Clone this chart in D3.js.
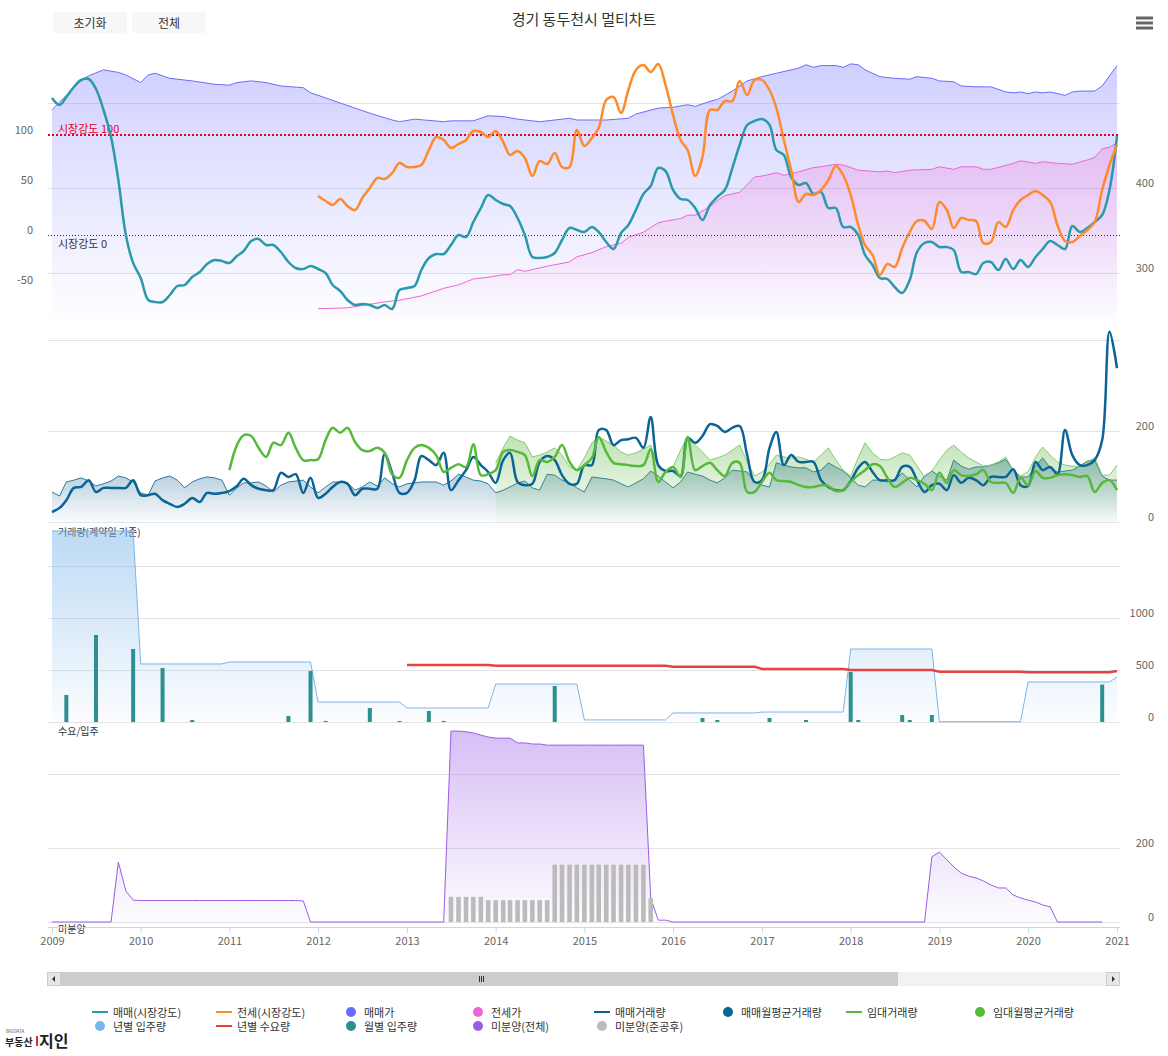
<!DOCTYPE html>
<html><head><meta charset="utf-8">
<script src="https://cdn.jsdelivr.net/npm/d3@7"></script>
<style>
body{margin:0;background:#fff;font-family:"Noto Sans CJK KR","Noto Sans",sans-serif;}
svg{display:block}
</style></head><body>
<svg id="chart" width="1168" height="1056"></svg>
<script>
// ---------------- DATA ----------------
const chartTitle = "경기 동두천시 멀티차트";
const xYears = ["2009","2010","2011","2012","2013","2014","2015","2016","2017","2018","2019","2020","2021"];

// 매매(시장강도) monthly from 2009-01
const saleStrengthStart = "2009-01";
const saleStrength = [137,130,138,148,155,156,146,125,98,55,0,-28,-43,-65,-67,-67,-60,-51,-50,-42,
-37,-29,-25,-26,-28,-21,-16,-6,-4,-10,-10,-17,-27,-33,-34,-31,-34,-38,-50,-56,
-65,-70,-69,-70,-73,-70,-74,-55,-53,-51,-35,-23,-19,-19,-10,0,-2,13,27,40,
35,31,29,17,0,-22,-23,-22,-18,-5,7,5,3,8,3,-7,-14,2,10,25,
41,49,67,64,45,36,35,27,15,30,38,45,67,90,110,114,116,110,85,80,
58,50,52,41,43,27,27,8,8,0,-20,-30,-43,-44,-52,-58,-45,-17,-8,-7,
-12,-12,-15,-37,-37,-39,-28,-27,-35,-24,-34,-25,-32,-22,-14,-6,-10,-14,9,3,
7,13,20,45,99];

// 전세(시장강도) monthly from 2012-01
const jeonseStrengthStart = "2012-01";
const jeonseStrength = [39,34,30,36,29,25,37,47,57,56,62,72,68,68,70,85,98,95,87,91,
95,104,103,98,104,93,80,84,77,59,74,71,82,68,68,105,89,97,107,135,
138,122,145,165,170,163,171,150,120,95,85,59,78,125,125,134,134,154,140,155,
155,145,127,95,65,33,41,40,45,55,69,60,40,10,-10,-20,-40,-29,-32,-13,
3,14,14,6,33,25,7,17,15,14,-8,-7,13,8,25,35,40,44,40,33,
10,-6,-7,-1,5,13,45,70,90];

// 매매가
const salePriceDates = ["2009-01","2009-03","2009-05","2009-06","2009-08","2009-10","2009-11","2010-01","2010-02","2010-03","2010-05","2010-08","2010-11","2011-01","2011-02","2011-04","2011-06","2011-08","2011-11","2011-12","2012-02","2012-04","2012-06","2012-08","2012-11","2012-12","2013-02","2013-06","2013-07","2013-10","2013-12","2014-02","2014-04","2014-07","2014-11","2014-12","2015-04","2015-07","2015-08","2015-11","2016-01","2016-03","2016-04","2016-06","2016-07","2016-09","2016-11","2017-01","2017-03","2017-06","2017-07","2017-08","2017-09","2017-11","2017-12","2018-01","2018-02","2018-03","2018-05","2018-07","2018-09","2018-10","2018-12","2019-01","2019-03","2019-04","2019-06","2019-08","2019-10","2019-11","2019-12","2020-01","2020-02","2020-03","2020-04","2020-06","2020-07","2020-08","2020-10","2020-11","2021-01"];
const salePrice = [492,509,527,532,539,536,533,524,533,535,529,526,522,521,524,526,524,520,518,512,506,500,494,488,480,478,481,478,479,479,485,484,481,478,482,480,480,482,487,494,495,498,496,502,504,514,526,531,535,541,545,542,544,544,542,546,545,539,531,529,528,531,529,526,525,520,519,519,513,512,513,511,513,512,513,509,513,514,514,520,544];

// 전세가
const jeonsePriceDates = ["2012-01","2012-05","2012-10","2012-12","2013-03","2013-06","2013-08","2013-10","2013-12","2014-02","2014-03","2014-04","2014-05","2014-07","2014-08","2014-11","2014-12","2015-02","2015-04","2015-06","2015-07","2015-09","2015-11","2015-12","2016-02","2016-03","2016-04","2016-06","2016-07","2016-08","2016-10","2016-11","2016-12","2017-01","2017-03","2017-04","2017-06","2017-08","2017-09","2017-11","2017-12","2018-02","2018-05","2018-06","2018-07","2018-09","2018-12","2019-01","2019-03","2019-04","2019-06","2019-07","2019-08","2019-11","2019-12","2020-02","2020-03","2020-05","2020-07","2020-09","2020-10","2020-11","2020-12","2021-01"];
const jeonsePrice = [258,259,266,268,273,282,286,293,295,298,298,304,302,306,308,313,319,324,331,335,342,348,359,361,364,368,368,378,385,391,395,404,413,414,418,415,419,424,425,428,427,421,419,420,418,421,422,425,422,425,425,422,422,429,432,429,431,429,428,433,436,446,448,453];

// 매매거래량 monthly from 2009-01
const saleVolumeStart = "2009-01";
const saleVolume = [22,31,48,75,77,92,66,75,75,75,75,92,59,59,62,48,40,33,40,53,
44,64,62,64,68,79,95,81,73,70,70,108,99,105,64,97,53,62,77,88,
84,59,73,73,73,149,108,64,64,92,145,136,125,152,70,92,114,143,125,110,
86,136,152,88,81,84,132,145,136,103,84,84,125,125,202,202,169,180,182,185,
163,231,125,112,112,101,185,174,189,215,211,198,207,211,147,88,92,163,198,125,
147,132,132,132,92,77,70,70,90,119,132,110,92,92,92,121,121,92,66,81,
84,70,103,86,97,92,81,99,99,99,116,81,79,132,114,121,105,202,147,125,
125,136,180,418,338];

// 매매월평균거래량 monthly from 2009-01
const saleAvgStart = "2009-01";
const saleAvg = [66,57,88,92,97,90,79,84,90,101,97,88,64,59,90,97,101,92,75,88,
95,99,97,92,59,75,86,86,88,79,66,81,88,90,92,77,64,77,88,88,
86,70,77,88,79,97,84,77,84,86,88,88,88,81,90,105,99,92,90,84,
64,70,77,86,90,75,70,105,103,92,86,75,66,99,97,95,92,84,77,86,
95,112,101,88,75,88,110,105,101,92,86,97,114,112,110,88,81,77,130,125,
121,119,119,110,114,130,121,112,97,81,77,92,92,88,92,108,92,77,101,112,
101,92,136,123,116,121,121,125,130,138,114,99,99,123,141,119,110,112,114,123,
134,136,101,92,92];

// 임대거래량 monthly from 2011-01
const rentVolumeStart = "2011-01";
const rentVolume = [114,169,191,189,163,143,174,169,196,163,
136,136,138,180,207,196,207,176,158,156,
163,152,105,97,136,163,169,163,147,110,
119,127,121,171,103,105,114,154,158,154,
147,101,136,132,143,169,132,114,125,141,
187,154,130,127,125,123,125,160,88,110,
121,99,187,114,123,130,114,101,130,130,
66,66,88,108,92,90,88,81,77,77,
81,79,68,70,88,103,114,127,123,97,
77,86,97,92,84,70,108,86,114,103,
101,105,114,88,86,86,64,97,81,112,
97,97,103,105,103,99,101,66,86,92,
70];

// 임대월평균거래량 monthly from 2014-01
const rentAvgStart = "2014-01";
const rentAvg = [130,163,189,180,174,143,147,154,163,147,
121,114,141,174,187,178,169,154,147,152,
160,169,121,110,121,158,187,169,154,136,
141,147,158,169,132,101,110,127,147,143,
141,143,138,132,147,163,136,114,101,141,
174,152,138,136,143,152,147,123,99,112,
136,158,169,154,141,132,123,125,132,143,
114,101,110,143,165,147,132,125,123,121,
132,141,103,103,125];

// 년별 입주량 (yearly)
const supplyYears = ["2009","2010","2011","2012","2013","2014","2015","2016","2017","2018","2019","2020","2021"];
const supplyValues = [1837,558,577,192,135,365,20,87,96,702,3,385,433];
// 년별 수요량 (yearly)
const demandYears = ["2013","2014","2015","2016","2017","2018","2019","2020","2021"];
const demandValues = [548,542,540,532,510,500,484,478,490];
// 월별 입주량
const moveInDates = ["2009-03","2009-07","2009-12","2010-04","2010-08","2011-09","2011-12","2012-02","2012-08","2012-12","2013-04","2013-06","2014-09","2016-05","2016-07","2017-02","2017-07","2018-01","2018-02","2018-08","2018-09","2018-12","2020-11"];
const moveInValues = [260,837,702,519,19,58,490,10,135,10,106,10,346,38,19,38,19,481,19,67,19,67,360];

// 미분양(전체) monthly from 2009-01
const unsoldStart = "2009-01";
const unsoldTotal = [0,0,0,0,0,0,0,0,0,162,84,59,
58,58,58,58,58,58,58,58,58,58,58,58,58,58,58,58,58,58,58,58,58,58,57,
0,0,0,0,0,0,0,0,0,0,0,0,0,0,0,0,0,0,0,
516,516,514,511,505,500,497,497,497,484,484,481,481,478,
478,478,478,478,478,478,478,478,478,478,478,478,478,
65,5,5,
0,0,0,0,0,0,0,0,0,0,0,0,0,0,0,0,0,0,0,0,0,0,0,0,0,0,0,0,0,0,0,0,0,0,0,
176,189,168,149,132,124,119,111,100,92,92,73,65,59,54,46,41,
0,0,0,0,0,0,0];
// 미분양(준공후)
const unsoldAfterDates = ["2013-07","2013-08","2013-09","2013-10","2013-11","2013-12","2014-01","2014-02","2014-03","2014-04","2014-05","2014-06","2014-07","2014-08","2014-09","2014-10","2014-11","2014-12","2015-01","2015-02","2015-03","2015-04","2015-05","2015-06","2015-07","2015-08","2015-09","2015-10"];
const unsoldAfter = [68,68,68,68,68,59,59,59,59,59,59,59,59,59,155,155,155,155,155,155,155,155,155,155,155,155,155,65];

// axis ticks
const strengthTicks = [100,50,0,-50];
const priceGridTicks = [300,400,500];
const priceLabelTicks = [400,300];
const volGridTicks = [0,200,400];
const volLabelTicks = [200,0];
const supplyGridTicks = [0,500,1000,1500];
const supplyLabelTicks = [1000,500,0];
const unsoldGridTicks = [0,200,400];
const unsoldLabelTicks = [200,0];

const legendItems = [
  {name:"매매(시장강도)", color:"#2a9aab", type:"line"},
  {name:"전세(시장강도)", color:"#fd8b2b", type:"line"},
  {name:"매매가", color:"#6b6bff", type:"circle"},
  {name:"전세가", color:"#ef66d0", type:"circle"},
  {name:"매매거래량", color:"#0a6496", type:"line"},
  {name:"매매월평균거래량", color:"#0a6496", type:"circle"},
  {name:"임대거래량", color:"#57b93a", type:"line"},
  {name:"임대월평균거래량", color:"#57b93a", type:"circle"},
  {name:"년별 입주량", color:"#7cb5ec", type:"circle"},
  {name:"년별 수요량", color:"#e84142", type:"line"},
  {name:"월별 입주량", color:"#2b908f", type:"circle"},
  {name:"미분양(전체)", color:"#9a5ce6", type:"circle"},
  {name:"미분양(준공후)", color:"#bbbbbb", type:"circle"}
];

// ---------------- SETUP ----------------
const svg = d3.select("#chart");
const defs = svg.append("defs");
const parseM = d3.timeParse("%Y-%m");
const parseY = d3.timeParse("%Y");
const GX0 = 48, GX1 = 1120;
const FONT = '"Noto Sans CJK KR","Noto Sans",sans-serif';

const x = d3.scaleTime().domain([new Date(2009,0,1), new Date(2021,0,1)]).range([52,1117]);
const yStrength = d3.scaleLinear().domain([0,100]).range([235,135]);
const yPrice = d3.scaleLinear().domain([300,400]).range([273,188]);
const yVol = d3.scaleLinear().domain([0,200]).range([522,431]);
const ySupply = d3.scaleLinear().domain([0,1000]).range([722,618]);
const yUnsold = d3.scaleLinear().domain([0,200]).range([922,848]);

function monthly(start, vals){ const s = parseM(start); return vals.map((v,i)=>({d:d3.timeMonth.offset(s,i), v})); }
function dated(dates, vals){ return dates.map((d,i)=>({d:parseM(d), v:vals[i]})); }
function grad(id, color, y1, y2, o1, o2){
  const g = defs.append("linearGradient").attr("id",id).attr("gradientUnits","userSpaceOnUse")
    .attr("x1",0).attr("x2",0).attr("y1",y1).attr("y2",y2);
  g.append("stop").attr("offset",0).attr("stop-color",color).attr("stop-opacity",o1);
  g.append("stop").attr("offset",1).attr("stop-color",color).attr("stop-opacity",o2);
}
const smooth = d3.curveCatmullRom.alpha(0.5);
function line(ys, curve){ return d3.line().x(p=>x(p.d)).y(p=>ys(p.v)).curve(curve||d3.curveLinear); }
function area(ys, base){ return d3.area().x(p=>x(p.d)).y0(base).y1(p=>ys(p.v)); }

grad("gPrice","#6b6bff",62,325,0.32,0.0);
grad("gJeonse","#f060d0",140,325,0.28,0.0);
grad("gSaleAvg","#2a6f9c",456,522,0.45,0.02);
grad("gRentAvg","#5ab43c",432,522,0.4,0.02);
grad("gSupply","#7cb5ec",531,722,0.5,0.03);
grad("gUnsold","#9a5ce6",731,922,0.4,0.02);

function grid(ys, ticks){
  svg.append("g").selectAll("line").data(ticks).join("line")
    .attr("x1",GX0).attr("x2",GX1).attr("y1",d=>Math.round(ys(d))+0.5).attr("y2",d=>Math.round(ys(d))+0.5)
    .attr("stroke","#e3e3e3").attr("stroke-width",1);
}
function rightLabels(ys, ticks){
  svg.append("g").selectAll("text").data(ticks).join("text")
    .attr("x",1154).attr("y",d=>ys(d)-6).attr("text-anchor","end").attr("dominant-baseline","central")
    .attr("font-size",11).attr("fill","#666").attr("font-family",FONT).text(d=>d);
}

// ---------------- HEADER ----------------
const buttons = [{t:"초기화",x:53},{t:"전체",x:132}];
buttons.forEach(b=>{
  svg.append("rect").attr("x",b.x).attr("y",12).attr("width",74).attr("height",21).attr("rx",2).attr("fill","#f7f7f7");
  svg.append("text").attr("x",b.x+37).attr("y",22.5).attr("text-anchor","middle").attr("dominant-baseline","central")
    .attr("font-size",12).attr("fill","#333").attr("font-family",FONT).text(b.t);
});
svg.append("text").attr("x",584).attr("y",18).attr("text-anchor","middle").attr("dominant-baseline","central")
  .attr("font-size",15).attr("fill","#333").attr("font-family",FONT).text(chartTitle);
[18,23,28].forEach(yy=>svg.append("line").attr("x1",1136).attr("x2",1153).attr("y1",yy).attr("y2",yy)
  .attr("stroke","#666").attr("stroke-width",3));

// ---------------- PANEL 1 ----------------
grid(yPrice, priceGridTicks);
const priceData = dated(salePriceDates, salePrice);
const jeonseData = dated(jeonsePriceDates, jeonsePrice);
svg.append("path").datum(priceData).attr("d", area(yPrice, 320)).attr("fill","url(#gPrice)");
svg.append("path").datum(priceData).attr("d", line(yPrice)).attr("fill","none").attr("stroke","#6b6bff").attr("stroke-width",1);
svg.append("path").datum(jeonseData).attr("d", area(yPrice, 320)).attr("fill","url(#gJeonse)");
svg.append("path").datum(jeonseData).attr("d", line(yPrice)).attr("fill","none").attr("stroke","#ef66d0").attr("stroke-width",1);

// plot lines
svg.append("line").attr("x1",GX0).attr("x2",GX1).attr("y1",yStrength(100)).attr("y2",yStrength(100))
  .attr("stroke","#e8001c").attr("stroke-width",2).attr("stroke-dasharray","2,2");
svg.append("text").attr("x",58).attr("y",yStrength(100)-7).attr("dominant-baseline","central")
  .attr("font-size",11).attr("fill","#e8001c").attr("font-family",FONT).text("시장강도 100");
svg.append("line").attr("x1",GX0).attr("x2",GX1).attr("y1",yStrength(0)+0.5).attr("y2",yStrength(0)+0.5)
  .attr("stroke","#333").attr("stroke-width",1).attr("stroke-dasharray","1,2");
svg.append("text").attr("x",58).attr("y",yStrength(0)+8).attr("dominant-baseline","central")
  .attr("font-size",11).attr("fill","#333").attr("font-family",FONT).text("시장강도 0");

svg.append("path").datum(monthly(saleStrengthStart, saleStrength)).attr("d", line(yStrength, smooth))
  .attr("fill","none").attr("stroke","#2a9aab").attr("stroke-width",2.5);
svg.append("path").datum(monthly(jeonseStrengthStart, jeonseStrength)).attr("d", line(yStrength, smooth))
  .attr("fill","none").attr("stroke","#fd8b2b").attr("stroke-width",2.5);

svg.append("g").selectAll("text").data(strengthTicks).join("text")
  .attr("x",33).attr("y",d=>yStrength(d)-6).attr("text-anchor","end").attr("dominant-baseline","central")
  .attr("font-size",11).attr("fill","#666").attr("font-family",FONT).text(d=>d);
rightLabels(yPrice, priceLabelTicks);

// ---------------- PANEL 2 ----------------
grid(yVol, volGridTicks);
const saleAvgData = monthly(saleAvgStart, saleAvg);
const rentAvgData = monthly(rentAvgStart, rentAvg);
svg.append("path").datum(saleAvgData).attr("d", area(yVol, 522)).attr("fill","url(#gSaleAvg)");
svg.append("path").datum(saleAvgData).attr("d", line(yVol)).attr("fill","none").attr("stroke","#2a7aa3").attr("stroke-width",1);
svg.append("path").datum(rentAvgData).attr("d", area(yVol, 522)).attr("fill","url(#gRentAvg)");
svg.append("path").datum(rentAvgData).attr("d", line(yVol)).attr("fill","none").attr("stroke","#86cf66").attr("stroke-width",1);
svg.append("path").datum(monthly(saleVolumeStart, saleVolume)).attr("d", line(yVol, smooth))
  .attr("fill","none").attr("stroke","#0a6496").attr("stroke-width",2.5);
svg.append("path").datum(monthly(rentVolumeStart, rentVolume)).attr("d", line(yVol, smooth))
  .attr("fill","none").attr("stroke","#57b93a").attr("stroke-width",2.5);
rightLabels(yVol, volLabelTicks);
svg.append("text").attr("x",58).attr("y",531).attr("dominant-baseline","central")
  .attr("font-size",10).attr("fill","#333").attr("font-family",FONT).text("거래량(계약일 기준)");

// ---------------- PANEL 3 ----------------
grid(ySupply, supplyGridTicks);
const supplyPts = [];
supplyYears.forEach((yr,i)=>{
  const d0 = parseY(yr);
  supplyPts.push({d:d0, v:supplyValues[i]});
  if (i < supplyYears.length-1) supplyPts.push({d:d3.timeMonth.offset(d0,11), v:supplyValues[i]});
});
svg.append("path").datum(supplyPts).attr("d", area(ySupply, 722)).attr("fill","url(#gSupply)");
svg.append("path").datum(supplyPts).attr("d", line(ySupply)).attr("fill","none").attr("stroke","#7cb5ec").attr("stroke-width",1);
const moveIn = dated(moveInDates, moveInValues);
svg.append("g").selectAll("rect").data(moveIn).join("rect")
  .attr("x",p=>x(p.d)-2).attr("width",4).attr("y",p=>ySupply(p.v)).attr("height",p=>722-ySupply(p.v))
  .attr("fill","#2b908f");
const demandPts = [];
demandYears.forEach((yr,i)=>{
  const d0 = parseY(yr);
  demandPts.push({d:d0, v:demandValues[i]});
  if (i < demandYears.length-1) demandPts.push({d:d3.timeMonth.offset(d0,11), v:demandValues[i]});
});
svg.append("path").datum(demandPts).attr("d", line(ySupply)).attr("fill","none").attr("stroke","#e84142").attr("stroke-width",2.5);
rightLabels(ySupply, supplyLabelTicks);
svg.append("text").attr("x",58).attr("y",730).attr("dominant-baseline","central")
  .attr("font-size",10).attr("fill","#333").attr("font-family",FONT).text("수요/입주");

// ---------------- PANEL 4 ----------------
grid(yUnsold, unsoldGridTicks);
const unsoldData = monthly(unsoldStart, unsoldTotal);
svg.append("path").datum(unsoldData).attr("d", area(yUnsold, 922)).attr("fill","url(#gUnsold)");
svg.append("path").datum(unsoldData).attr("d", line(yUnsold)).attr("fill","none").attr("stroke","#9a5ce6").attr("stroke-width",1);
const unsoldAfterData = dated(unsoldAfterDates, unsoldAfter);
svg.append("g").selectAll("rect").data(unsoldAfterData).join("rect")
  .attr("x",p=>x(p.d)-2.3).attr("width",4.6).attr("y",p=>yUnsold(p.v)).attr("height",p=>922-yUnsold(p.v))
  .attr("fill","#bbbbbb");
rightLabels(yUnsold, unsoldLabelTicks);
svg.append("text").attr("x",58).attr("y",928).attr("dominant-baseline","central")
  .attr("font-size",10).attr("fill","#333").attr("font-family",FONT).text("미분양");

// ---------------- X AXIS ----------------
const xAxis = d3.axisBottom(x).tickValues(xYears.map(parseY)).tickFormat(d3.timeFormat("%Y")).tickSize(6).tickSizeOuter(0);
const gx = svg.append("g").attr("transform","translate(0,927)").call(xAxis);
gx.select(".domain").attr("stroke","#ccd6eb").attr("d","M"+GX0+",0.5H"+GX1);
gx.selectAll(".tick line").attr("stroke","#ccd6eb");
gx.selectAll(".tick text").attr("fill","#666").attr("font-size",11).attr("font-family",FONT).attr("y",10);

// ---------------- SCROLLBAR ----------------
svg.append("rect").attr("x",47).attr("y",972).attr("width",1073).attr("height",14).attr("fill","#f2f2f2");
svg.append("rect").attr("x",61).attr("y",972).attr("width",837).attr("height",14).attr("fill","#cccccc");
[479,481,483].forEach(xx=>svg.append("line").attr("x1",xx+0.5).attr("x2",xx+0.5).attr("y1",976).attr("y2",982).attr("stroke","#333"));
svg.append("rect").attr("x",47.5).attr("y",972.5).attr("width",13).attr("height",13).attr("fill","#e6e6e6").attr("stroke","#cccccc");
svg.append("rect").attr("x",1106.5).attr("y",972.5).attr("width",13).attr("height",13).attr("fill","#e6e6e6").attr("stroke","#cccccc");
svg.append("path").attr("d","M55,976 L52,979 L55,982 Z").attr("fill","#333");
svg.append("path").attr("d","M1112,976 L1115,979 L1112,982 Z").attr("fill","#333");

// ---------------- LEGEND ----------------
const legCols = [92,216,343,470,594,720,846,972];
const leg = svg.append("g").attr("font-family",FONT).attr("font-size",11);
legendItems.forEach((it,i)=>{
  const col = legCols[i % 8], row = Math.floor(i/8);
  const yy = 1012 + row*14;
  if (it.type === "line") {
    leg.append("line").attr("x1",col).attr("x2",col+16).attr("y1",yy).attr("y2",yy).attr("stroke",it.color).attr("stroke-width",2);
  } else {
    leg.append("circle").attr("cx",col+8).attr("cy",yy).attr("r",5).attr("fill",it.color);
  }
  leg.append("text").attr("x",col+21).attr("y",yy).attr("dominant-baseline","central").attr("fill","#333").text(it.name);
});

// ---------------- LOGO ----------------
svg.append("text").attr("x",6).attr("y",1033).attr("font-size",4.5).attr("fill","#555").attr("font-family",FONT).text("BIGDATA");
svg.append("text").attr("x",5).attr("y",1046).attr("font-size",10).attr("font-weight","bold").attr("fill","#222").attr("font-family",FONT).text("부동산");
svg.append("rect").attr("x",36).attr("y",1036).attr("width",2).attr("height",10).attr("fill","#e03030");
svg.append("text").attr("x",39).attr("y",1047).attr("font-size",16).attr("font-weight","bold").attr("fill","#222").attr("font-family",FONT).text("지인");
</script></body></html>
